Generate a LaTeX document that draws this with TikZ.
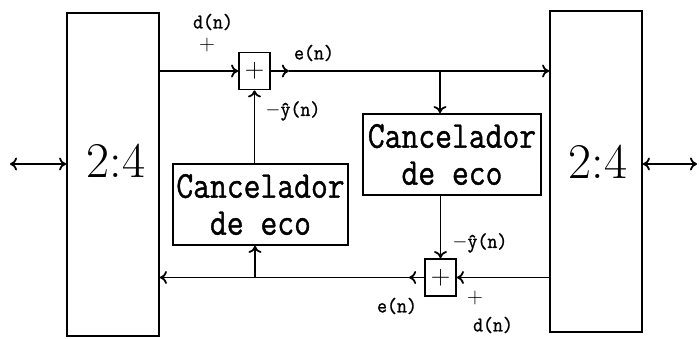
\documentclass[tikz,border=0pt]{standalone}
\usepackage{fontspec}
\usetikzlibrary{arrows.meta}
% heavier typewriter face for the block and signal lettering
\newfontfamily\heavytt{Latin Modern Mono}[FakeBold=1.2]
\newcommand{\narrowtt}[1]{\scalebox{0.86}[1]{#1}}
\newcommand{\lbltt}[1]{\scalebox{0.92}[1]{#1}}
\begin{document}
\begin{tikzpicture}[x=1pt,y=-1pt,
  line width=1.8pt,
  tip/.tip={Computer Modern Rightarrow[length=7pt,width=13pt]},
  arr/.style={-tip},
  dblarr/.style={tip-tip},
  hybrid/.style={draw, minimum width=92pt, inner sep=0pt},
  hybtext/.style={inner sep=0pt, font=\fontsize{50}{50}\selectfont},
  canc/.style={draw, minimum height=81pt, inner sep=0pt, align=center,
               font=\fontsize{38}{37}\heavytt},
  sumbox/.style={draw, minimum width=31pt, minimum height=37pt, inner sep=0pt,
                 font=\fontsize{27}{27}\selectfont},
  lbl/.style={inner sep=0pt, font=\fontsize{21}{21}\heavytt},
  sgn/.style={inner sep=0pt, font=\fontsize{22}{22}\selectfont}]
\useasboundingbox (0,0) rectangle (699,339);

% hybrids
\node[hybrid, minimum height=323pt] (L) at (113,174.5) {};
\node[hybrid, minimum height=321pt] (R) at (596,171.5) {};
\node[hybtext] (Lt) at (116,161) {2:4};
\node[hybtext] (Rt) at (598,162) {2:4};

% echo cancellers
\node[canc, minimum width=175pt] (C1) at (260.5,204.5)
  {\narrowtt{Cancelador}\\\narrowtt{de eco}};
\node[canc, minimum width=178pt] (C2) at (452,154.5)
  {\narrowtt{Cancelador}\\\narrowtt{de eco}};

% adders
\node[sumbox] (S1) at (254.5,71) {+};
\node[sumbox] (S2) at (440.5,277.5) {+};

% two-wire ports
\coordinate (pl) at (10,164);
\coordinate (pr) at (697,164);
\draw[dblarr] (pl) -- (pl -| L.west);
\draw[dblarr] (R.east |- pr) -- (pr);

% upper path
\coordinate (b1) at (440,71);
\draw[arr] (L.east |- S1.west) -- (S1.west);
\draw[arr] (S1.east) -- ++(18,0) coordinate (e1);
\draw[arr] (e1) -- (S1.east -| R.west);
\draw[arr] (b1) -- (b1 |- C2.north);
\draw[arr] (S1.south |- C1.north) -- (S1.south);

% lower path
\coordinate (b2) at (255,277.5);
\draw[arr] (S2.east -| R.west) -- (S2.east);
\draw[arr] (S2.west) -- ++(-15,0) coordinate (e2);
\draw[arr] (e2) -- (S2.west -| L.east);
\draw[arr] (b2) -- (b2 |- C1.south);
\draw[arr] (S2.north |- C2.south) -- (S2.north);

% signal labels
\node[lbl] (d1) at (213,22) {\lbltt{d(n)}};
\node[sgn] (p1) at (207,45) {+};
\node[lbl] (en1) at (314,53) {\lbltt{e(n)}};
\node[lbl] (y1) at (293,111) {\lbltt{$-$ŷ(n)}};
\node[lbl] (y2) at (480,243) {\lbltt{$-$ŷ(n)}};
\node[lbl] (en2) at (397,306) {\lbltt{e(n)}};
\node[sgn] (p2) at (475,298) {+};
\node[lbl] (d2) at (493,325) {\lbltt{d(n)}};
\end{tikzpicture}
\end{document}
